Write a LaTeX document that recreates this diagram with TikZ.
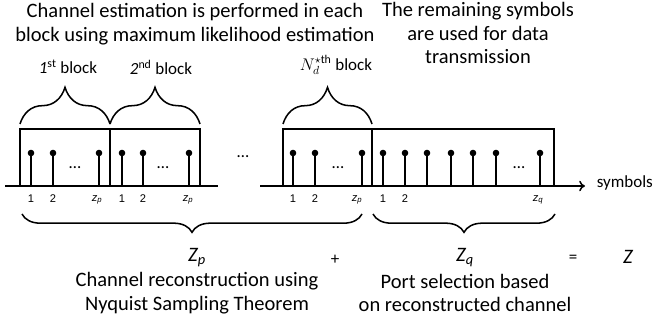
\documentclass[tikz,border=0pt]{standalone}
\usepackage{fontspec}
\setmainfont{Carlito}
\setsansfont{Liberation Sans}
\usetikzlibrary{arrows.meta}
\usetikzlibrary{decorations.pathreplacing}

\begin{document}
\begin{tikzpicture}[x=0.03cm, y=-0.03cm, every path/.style={line width=1.3pt},
  txt/.style={font=\fontsize{17.5}{20}\selectfont, align=center, inner sep=0pt},
  lbl/.style={font=\fontsize{14.5}{17}\selectfont, inner sep=0pt},
  idx/.style={font=\sffamily\fontsize{9.5}{11}\selectfont, inner sep=0pt},
  topbrace/.style={decorate, decoration={brace, amplitude=1.1cm}},
  lowbrace/.style={decorate, decoration={brace, amplitude=0.55cm}}]
\useasboundingbox (0,0) rectangle (654,320);

% headings
\node[txt] (est) at (195,24) {Channel estimation is performed in each\\block using maximum likelihood estimation};
\node[txt] (rem) at (478,33) {The remaining symbols\\are used for data\\transmission};
\node[lbl] (b1) at (68,67) {\textit{1}\textsuperscript{st} block};
\node[lbl] (b2) at (161,67) {\textit{2}\textsuperscript{nd} block};
\node[lbl] (bn) at (336,65) {$N_d^{\star\mathrm{th}}$ block};

% blocks
\draw (20,129) rectangle (110,186);
\draw (110,129) rectangle (200,186);
\draw (283,129) rectangle (372,186);
\draw (372,129) rectangle (554,186);
\draw[topbrace] (20,124) -- (110,124);
\draw[topbrace] (110,124) -- (200,124);
\draw[topbrace] (283,124) -- (372,124);

% time axis
\draw (5,186) -- (218,186);
\draw[-{To[length=5pt, width=9pt]}] (260,186) -- (585,186);
\node[lbl, anchor=west] (sym) at (596,183) {symbols};

% symbols
\foreach \x in {31,53,99,122,143,189,293,315,362,383,405,427,451,473,496,540} {
  \draw (\x,186) -- (\x,153);
  \fill (\x,153) circle (3.3);
}
\foreach \x/\y in {75/168,163/168,243/157,338/168,519/168}
  \node[lbl] at (\x,\y) {\dots};

% indices
\foreach \x/\t in {31/1,53/2,122/1,143/2,293/1,315/2,383/1,405/2}
  \node[idx] at (\x,199) {\t};
\foreach \x in {97,188,357}
  \node[idx] at (\x,200) {\itshape z\textsubscript{p}};
\node[idx] (zq) at (538,200) {\itshape z\textsubscript{q}};

% totals
\draw[lowbrace] (362,214) -- (22,214);
\draw[lowbrace] (555,214) -- (373,214);
\node[txt] (Zp) at (197,258) {\itshape Z\textsubscript{p}};
\node[lbl] (plus) at (335,260) {+};
\node[txt] (Zq) at (465,258) {\itshape Z\textsubscript{q}};
\node[lbl] (eq) at (573,259) {=};
\node[txt] (Z) at (628,257) {\itshape Z};

% captions
\node[txt] (rec) at (197,293) {Channel reconstruction using\\Nyquist Sampling Theorem};
\node[txt] (port) at (465,293) {Port selection based\\on reconstructed channel};
\end{tikzpicture}
\end{document}
